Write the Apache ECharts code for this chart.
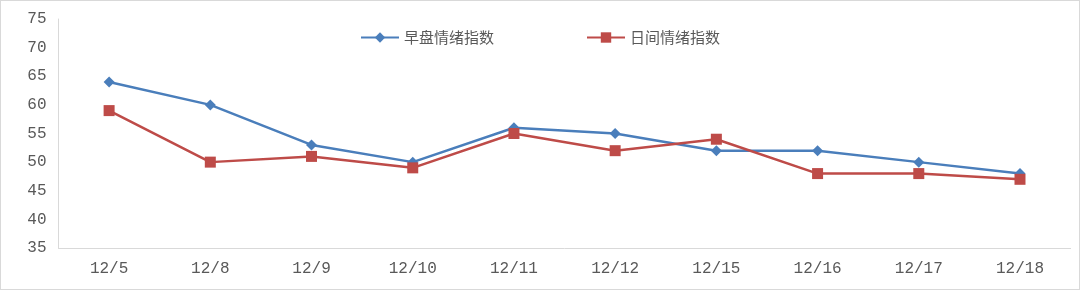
<!DOCTYPE html>
<html><head><meta charset="utf-8">
<script src="https://cdn.jsdelivr.net/npm/echarts@6/dist/echarts.min.js"></script>
<style>
html,body{margin:0;padding:0;background:#fff;}
#wrap{position:absolute;left:0;top:0;width:1078px;height:288px;border:1px solid #d9d9d9;}
#c{width:1078px;height:288px;}
</style></head>
<body><div id="wrap"><div id="c"></div></div>
<script>
const categories = ['12/5','12/8','12/9','12/10','12/11','12/12','12/15','12/16','12/17','12/18'];
const morningName = '早盘情绪指数';
const dayName = '日间情绪指数';
const morningValues = [64, 60, 53, 50, 56, 55, 52, 52, 50, 48];
const dayValues = [59, 50, 51, 49, 55, 52, 54, 48, 48, 47];

const chart = echarts.init(document.getElementById('c'));
chart.setOption({
  animation: false,
  legend: {
    top: 24, left: 354,
    itemGap: 92, itemWidth: 38, itemHeight: 13,
    textStyle: {color: '#595959', fontSize: 15, fontFamily: '"Noto Sans CJK SC", sans-serif'},
    data: [morningName, dayName]
  },
  grid: {left: 57.5, right: 8.4, top: 18, bottom: 41, containLabel: false},
  xAxis: {
    type: 'category', data: categories, boundaryGap: true,
    axisLine: {lineStyle: {color: '#d9d9d9', width: 1}},
    axisTick: {show: false},
    axisLabel: {color: '#595959', fontSize: 16, margin: 13, fontFamily: '"Liberation Mono", monospace'}
  },
  yAxis: {
    type: 'value', min: 35, max: 75, interval: 5,
    axisLine: {show: true, lineStyle: {color: '#d9d9d9'}},
    axisTick: {show: false},
    splitLine: {show: false},
    axisLabel: {color: '#595959', fontSize: 16, margin: 12, fontFamily: '"Liberation Mono", monospace'}
  },
  series: [
    {name: morningName, type: 'line', data: morningValues, symbol: 'diamond', symbolSize: 11,
     itemStyle: {color: '#4a7ebb'}, lineStyle: {color: '#4a7ebb', width: 2.5}},
    {name: dayName, type: 'line', data: dayValues, symbol: 'rect', symbolSize: 11,
     itemStyle: {color: '#be4b48'}, lineStyle: {color: '#be4b48', width: 2.5}}
  ]
});
</script></body></html>
